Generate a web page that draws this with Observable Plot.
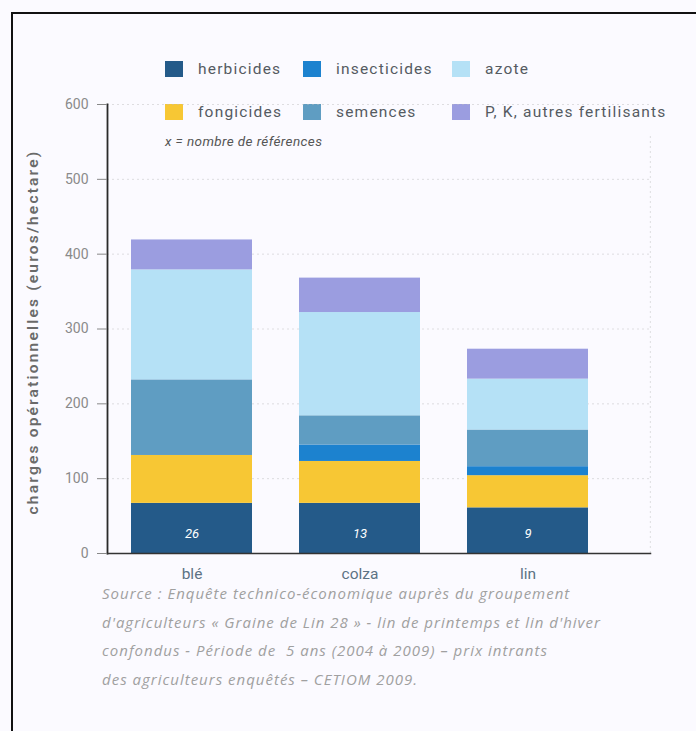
<!DOCTYPE html>
<html>
<head>
<meta charset="utf-8">
<script src="https://cdn.jsdelivr.net/npm/d3@7"></script>
<script src="https://cdn.jsdelivr.net/npm/@observablehq/plot@0.6"></script>
<style>
  html, body { margin: 0; padding: 0; background: #fbfaff; }
  #wrap { position: relative; width: 696px; height: 731px; background: #fbfaff; overflow: hidden; font-family: Roboto, "Open Sans", sans-serif; }
  #border { position: absolute; left: 11px; top: 12px; width: 720px; height: 740px; border-top: 2.5px solid #111; border-left: 2.5px solid #111; }
  #chart { position: absolute; left: 0; top: 90px; }
  .leg { position: absolute; display: flex; align-items: center; font-size: 15.5px; letter-spacing: 1.2px; color: #555b62; white-space: nowrap; }
  .sw { width: 18px; height: 16px; margin-right: 15px; }
  #note { position: absolute; left: 165px; top: 133px; font-size: 13.5px; letter-spacing: 0.4px; font-style: italic; color: #555; }
  #caption { position: absolute; left: 102px; top: 579px; font-size: 15px; letter-spacing: 1px; font-style: italic; color: #a0a0a0; line-height: 28.6px; font-family: "Open Sans", sans-serif; white-space: nowrap; }
  #ylabel { position: absolute; left: 33px; top: 332px; transform: translate(-50%, -50%) rotate(-90deg); white-space: nowrap; font-size: 15.5px; font-weight: 600; letter-spacing: 2.2px; color: #6a6a6a; }
</style>
</head>
<body>
<div id="wrap">
  <div id="border"></div>
  <div id="legend"></div>
  <div id="note">x = nombre de références</div>
  <div id="chart"></div>
  <div id="ylabel">charges opérationnelles (euros/hectare)</div>
  <div id="caption">
    Source : Enquête technico-économique auprès du groupement<br>
    d'agriculteurs « Graine de Lin 28 » - lin de printemps et lin d'hiver<br>
    confondus - Période de &nbsp;5 ans (2004 à 2009) – prix intrants<br>
    des agriculteurs enquêtés – CETIOM 2009.
  </div>
</div>
<script>
// ---- data ----
const crops = ["blé", "colza", "lin"];
const herbicides = [67, 67, 61];
const fongicides = [64, 56, 43];
const insecticides = [0, 22, 12];
const semences = [101, 39, 49];
const azote = [147, 138, 68];
const pk = [40, 46, 40];
const references = [26, 13, 9];
const yTicks = [0, 100, 200, 300, 400, 500, 600];

// stacking order (bottom to top) and legend order
const stackOrder = ["herbicides", "fongicides", "insecticides", "semences", "azote", "P, K, autres fertilisants"];
const legendOrder = ["herbicides", "insecticides", "azote", "fongicides", "semences", "P, K, autres fertilisants"];
const colors = {
  "herbicides": "#245a89",
  "insecticides": "#1c82cf",
  "azote": "#b5e1f6",
  "fongicides": "#f7c734",
  "semences": "#5f9dc2",
  "P, K, autres fertilisants": "#9b9de0"
};

const seriesValues = [herbicides, fongicides, insecticides, semences, azote, pk];
const rows = [];
stackOrder.forEach((s, si) => {
  crops.forEach((c, ci) => rows.push({crop: c, type: s, value: seriesValues[si][ci]}));
});
const labels = crops.map((c, i) => ({crop: c, n: references[i]}));

// ---- legend ----
const legend = document.getElementById("legend");
const legX = [165, 303, 452];
const legY = [60, 103];
legendOrder.forEach((s, i) => {
  const d = document.createElement("div");
  d.className = "leg";
  d.style.left = legX[i % 3] + "px";
  d.style.top = legY[Math.floor(i / 3)] + "px";
  d.innerHTML = `<span class="sw" style="background:${colors[s]}"></span><span>${s}</span>`;
  legend.appendChild(d);
});

// ---- chart ----
const W = 696, H = 500;
const x0 = 107, x1 = 613;
const halfBand = (x1 - x0) / crops.length / 2;

const chart = Plot.plot({
  width: W,
  height: H,
  marginTop: 14,
  marginBottom: 37,
  marginLeft: x0,
  marginRight: 46,
  style: {background: "transparent", fontFamily: "Roboto, sans-serif"},
  x: {domain: crops, range: [x0, x1], paddingInner: 0.277, paddingOuter: 0.1385, axis: null},
  y: {domain: [0, 600], axis: null},
  color: {domain: stackOrder, range: stackOrder.map(s => colors[s])},
  marks: [
    Plot.gridY(yTicks.filter(t => t > 0), {stroke: "#bbb", strokeOpacity: 0.45, strokeDasharray: "2,3"}),
    Plot.ruleX([0], {x: () => crops[2], dx: halfBand + 38, y1: 0, y2: 560, stroke: "#bbb", strokeOpacity: 0.45, strokeDasharray: "2,3"}),
    Plot.barY(rows, Plot.stackY({x: "crop", y: "value", fill: "type", order: stackOrder})),
    Plot.text(labels, {x: "crop", y: 0, dy: -20, text: d => String(d.n), fill: "white", fontSize: 13, fontStyle: "italic"}),
    Plot.frame({anchor: "left", stroke: "#2a2a2a", strokeWidth: 1.8}),
    Plot.frame({anchor: "bottom", stroke: "#333", strokeWidth: 1.5}),
    Plot.axisY({ticks: yTicks, tickSize: 10, tickPadding: 9, stroke: "#888", fill: "#8a8a8a", fontSize: 14, label: null}),
    Plot.axisX({tickSize: 0, tickPadding: 14, fill: "#5d7284", fontSize: 15.5, label: null})
  ]
});
document.getElementById("chart").appendChild(chart);
</script>
</body>
</html>
